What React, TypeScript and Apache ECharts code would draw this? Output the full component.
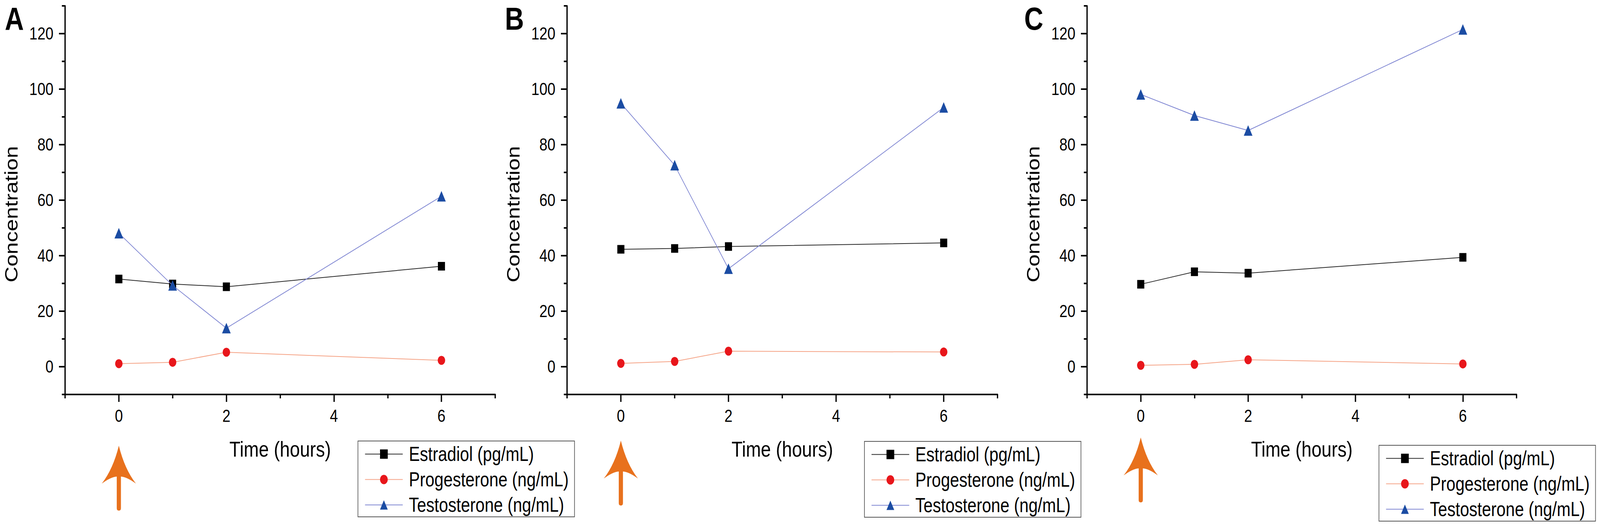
import React, { useEffect, useRef, useState } from 'react';
import * as echarts from 'echarts';

// ---------- data ----------
const times = [0, 1, 2, 6];
const seriesNames = ['Estradiol (pg/mL)', 'Progesterone (ng/mL)', 'Testosterone (ng/mL)'];
const panelLabels = ['A', 'B', 'C'];

const estradiolA = [31.6, 29.8, 28.8, 36.2];
const progesteroneA = [1.1, 1.6, 5.2, 2.3];
const testosteroneA = [48.1, 29.3, 13.9, 61.4];

const estradiolB = [42.3, 42.6, 43.3, 44.6];
const progesteroneB = [1.2, 1.9, 5.6, 5.3];
const testosteroneB = [94.9, 72.6, 35.3, 93.4];

const estradiolC = [29.7, 34.2, 33.7, 39.4];
const progesteroneC = [0.5, 0.85, 2.5, 1.0];
const testosteroneC = [98.1, 90.5, 85.1, 121.5];

const xMajorTicks = [0, 2, 4, 6];
const xMinorTicks = [-1, 1, 3, 5, 7];
const yMajorTicks = [0, 20, 40, 60, 80, 100, 120];
const yMinorTicks = [-10, 10, 30, 50, 70, 90, 110, 130];

const xTitle = 'Time (hours)';
const yTitle = 'Concentration';

// ---------- layout / style (design units: 4966 x 1348) ----------
const DESIGN_W = 4966;
const DESIGN_H = 1348;
const FONT = '"Liberation Sans", Arial, Helvetica, sans-serif';
const X_MIN = -1, X_MAX = 7, Y_MIN = -10, Y_MAX = 130;
const GRID_TOP = 15, GRID_HEIGHT = 994;

const panelLayout = [
  { left: 202, width: 1335, legendLeft: 1111, legendTop: 1128, arrowTop: 1140, labelX: 15 },
  { left: 1760, width: 1336, legendLeft: 2683, legendTop: 1129, arrowTop: 1127, labelX: 1567 },
  { left: 3374, width: 1333, legendLeft: 4280, legendTop: 1139, arrowTop: 1119, labelX: 3179 },
];

const hormoneStyles = [
  { symbol: 'rect', size: 22, line: '#2a2a2a', fill: '#000000' },
  { symbol: 'circle', size: 23, line: '#F5A487', fill: '#E8161B' },
  { symbol: 'triangle', size: 27, line: '#7F86D2', fill: '#1B4CA3' },
];

const panelData = [
  [estradiolA, progesteroneA, testosteroneA],
  [estradiolB, progesteroneB, testosteroneB],
  [estradiolC, progesteroneC, testosteroneC],
];

const arrowPath =
  'M0 0 Q18 60 53 97 Q25 80 6.5 79 L6.5 160 Q6.5 166 0 166 Q-6.5 166 -6.5 160 L-6.5 79 Q-25 80 -53 97 Q-18 60 0 0 Z';
echarts.graphic.registerShape('orangeArrow', echarts.graphic.extendPath(arrowPath, {}));

function buildOption(): any {
  const grid = panelLayout.map((pl) => ({
    left: pl.left,
    top: GRID_TOP,
    width: pl.width,
    height: GRID_HEIGHT,
    containLabel: false,
  }));

  const axisLineStyle = { color: '#000', width: 4 };
  const labelStyle = { fontSize: 45, fontFamily: FONT, color: '#000' };

  const xAxis: any[] = [];
  const yAxis: any[] = [];
  panelLayout.forEach((_, i) => {
    xAxis.push({
      type: 'value',
      gridIndex: i,
      position: 'bottom',
      min: X_MIN,
      max: X_MAX,
      axisLine: { show: true, onZero: false, lineStyle: axisLineStyle },
      axisTick: { show: true, length: 19, lineStyle: axisLineStyle, customValues: xMajorTicks },
      axisLabel: { show: true, margin: 32, customValues: xMajorTicks, ...labelStyle },
      splitLine: { show: false },
      name: xTitle,
      nameLocation: 'middle',
      nameGap: 112,
      nameTextStyle: { fontSize: 56, fontFamily: FONT, color: '#000' },
    });
    yAxis.push({
      type: 'value',
      gridIndex: i,
      position: 'left',
      min: Y_MIN,
      max: Y_MAX,
      axisLine: { show: true, onZero: false, lineStyle: axisLineStyle },
      axisTick: { show: true, length: 19, lineStyle: axisLineStyle, customValues: yMajorTicks },
      axisLabel: { show: true, margin: 36, customValues: yMajorTicks, ...labelStyle },
      splitLine: { show: false },
    });
  });
  panelLayout.forEach((_, i) => {
    xAxis.push({
      type: 'value',
      gridIndex: i,
      position: 'bottom',
      min: X_MIN,
      max: X_MAX,
      axisLine: { show: false, onZero: false },
      axisTick: { show: true, length: 10, lineStyle: axisLineStyle, customValues: xMinorTicks },
      axisLabel: { show: false },
      splitLine: { show: false },
    });
    yAxis.push({
      type: 'value',
      gridIndex: i,
      position: 'left',
      min: Y_MIN,
      max: Y_MAX,
      axisLine: { show: false, onZero: false },
      axisTick: { show: true, length: 10, lineStyle: axisLineStyle, customValues: yMinorTicks },
      axisLabel: { show: false },
      splitLine: { show: false },
    });
  });

  const series: any[] = [];
  panelData.forEach((hormones, i) => {
    hormones.forEach((vals, h) => {
      const st = hormoneStyles[h];
      series.push({
        type: 'line',
        name: seriesNames[h],
        xAxisIndex: i,
        yAxisIndex: i,
        data: times.map((t, k) => [t, vals[k]]),
        symbol: st.symbol,
        symbolSize: st.size,
        showSymbol: true,
        lineStyle: { color: st.line, width: 2 },
        itemStyle: { color: st.fill },
        emphasis: { disabled: true },
        z: 2 + h,
      });
    });
  });

  const legend = panelLayout.map((pl) => ({
    orient: 'vertical',
    left: pl.legendLeft,
    top: pl.legendTop,
    data: seriesNames,
    itemWidth: 117,
    itemHeight: 30,
    itemGap: 14,
    padding: [8, 18, 5, 21],
    borderColor: '#555',
    borderWidth: 2,
    selectedMode: false,
    textStyle: {
      fontSize: 51,
      fontFamily: FONT,
      color: '#000',
      lineHeight: 51,
      padding: [0, 0, 0, 14],
    },
  }));

  return {
    animation: false,
    backgroundColor: '#ffffff',
    grid,
    xAxis,
    yAxis,
    legend,
    series,
  };
}

function viewportScale(): [number, number] {
  if (typeof window === 'undefined') return [1, 1];
  const w = window.innerWidth || DESIGN_W;
  const h = window.innerHeight || DESIGN_H;
  const sx = w / DESIGN_W;
  const sy = h / DESIGN_H;
  return [isFinite(sx) && sx > 0 ? sx : 1, isFinite(sy) && sy > 0 ? sy : 1];
}

export default function App() {
  const ref = useRef<HTMLDivElement>(null);
  const [scale] = useState<[number, number]>(() => viewportScale());
  useEffect(() => {
    document.body.style.margin = '0';
    document.body.style.overflow = 'hidden';
    const chart = echarts.init(ref.current as HTMLDivElement, null, { renderer: 'svg' });
    chart.setOption(buildOption());

    const elements: any[] = [];
    panelLayout.forEach((pl, i) => {
      const axisX = chart.convertToPixel({ xAxisIndex: i } as any, X_MIN) as number;
      const zeroX = chart.convertToPixel({ xAxisIndex: i } as any, 0) as number;
      elements.push({
        type: 'text',
        id: 'label' + i,
        x: pl.labelX,
        y: 48,
        style: {
          text: panelLabels[i],
          fontSize: 82,
          fontWeight: 'bold',
          fontFamily: FONT,
          fill: '#000',
          align: 'left',
          verticalAlign: 'middle',
        },
      });
      elements.push({
        type: 'text',
        id: 'ytitle' + i,
        x: axisX - 167,
        y: 548,
        rotation: Math.PI / 2,
        style: {
          text: yTitle,
          fontSize: 56,
          fontFamily: FONT,
          fill: '#000',
          align: 'center',
          verticalAlign: 'middle',
        },
      });
      elements.push({
        type: 'orangeArrow',
        id: 'arrow' + i,
        x: zeroX,
        y: pl.arrowTop,
        style: { fill: '#E8711D', stroke: 'none' },
      });
    });
    chart.setOption({ graphic: [{ elements }] });

    return () => {
      chart.dispose();
    };
  }, []);
  return (
    <div
      ref={ref}
      style={{
        position: 'absolute',
        left: 0,
        top: 0,
        width: DESIGN_W,
        height: DESIGN_H,
        background: '#fff',
        transformOrigin: '0 0',
        transform: `scale(${scale[0]}, ${scale[1]})`,
      }}
    />
  );
}
